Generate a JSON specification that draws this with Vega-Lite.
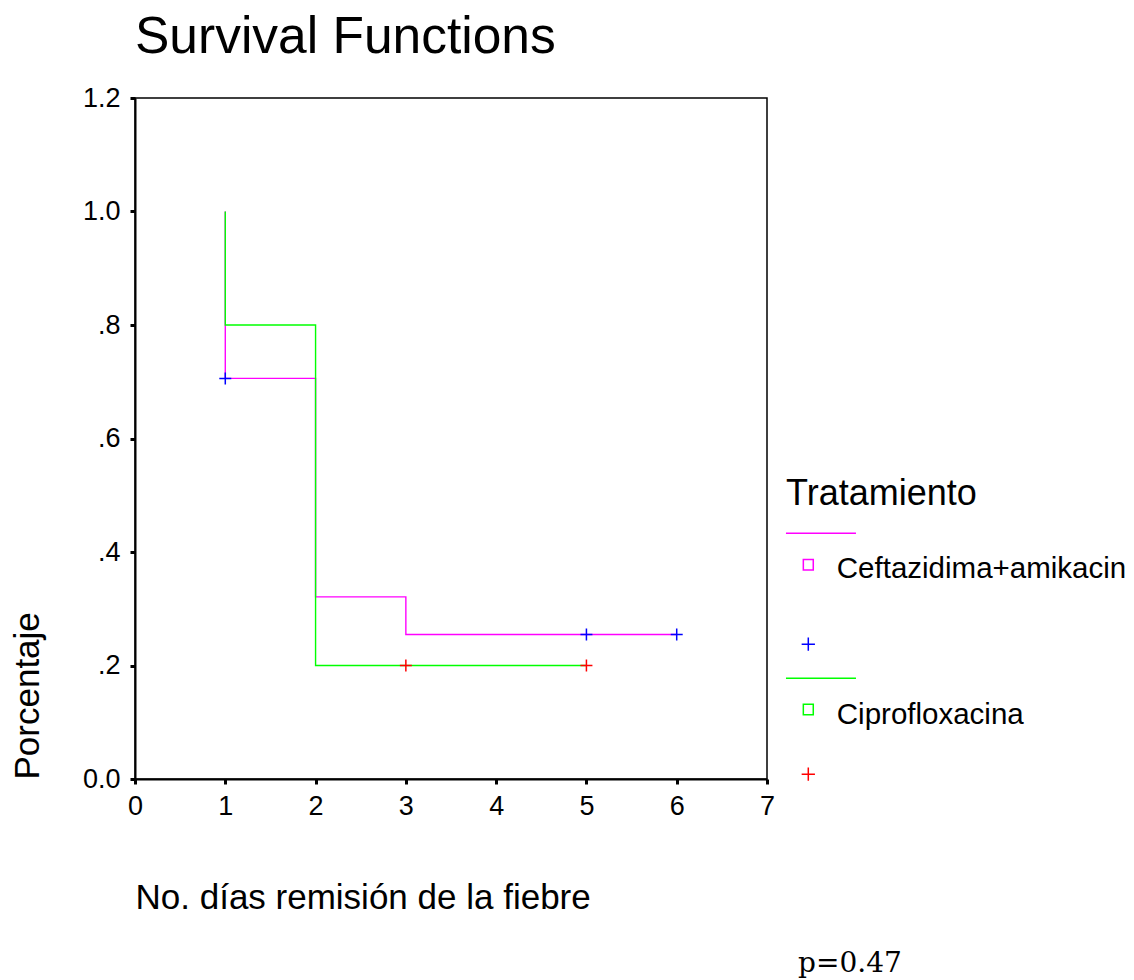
{
  "$schema": "https://vega.github.io/schema/vega-lite/v6.json",
  "width": 632,
  "height": 681,
  "autosize": {"type": "none"},
  "padding": {"left": 135, "top": 98, "right": 367, "bottom": 201},
  "background": "white",
  "title": {
    "text": "Survival Functions",
    "anchor": "start",
    "frame": "group",
    "font": "Liberation Sans",
    "fontSize": 51.5,
    "fontWeight": "normal",
    "color": "#000",
    "baseline": "alphabetic",
    "offset": -20
  },
  "config": {
    "font": "Liberation Sans",
    "view": {"stroke": "#000", "strokeWidth": 1.5},
    "axis": {
      "grid": false,
      "domainColor": "#000",
      "domainWidth": 2,
      "tickColor": "#000",
      "tickWidth": 3,
      "tickSize": 5,
      "labelFont": "Liberation Sans",
      "labelFontSize": 27,
      "labelColor": "#000",
      "labelFlush": false,
      "titleFont": "Liberation Sans",
      "titleFontSize": 35,
      "titleFontWeight": "normal",
      "titleColor": "#000"
    }
  },
  "datasets": {
    "curves": [
      {"key": "Ceftazidima+amikacin|line", "ord": 1, "time": 1, "surv": 1.0},
      {"key": "Ceftazidima+amikacin|line", "ord": 2, "time": 1, "surv": 0.7059},
      {"key": "Ceftazidima+amikacin|line", "ord": 3, "time": 2, "surv": 0.321},
      {"key": "Ceftazidima+amikacin|line", "ord": 4, "time": 3, "surv": 0.2545},
      {"key": "Ceftazidima+amikacin|line", "ord": 5, "time": 6, "surv": 0.2545},
      {"key": "Ciprofloxacina|line", "ord": 1, "time": 1, "surv": 1.0},
      {"key": "Ciprofloxacina|line", "ord": 2, "time": 1, "surv": 0.8},
      {"key": "Ciprofloxacina|line", "ord": 3, "time": 2, "surv": 0.2},
      {"key": "Ciprofloxacina|line", "ord": 4, "time": 5, "surv": 0.2}
    ],
    "censored": [
      {"key": "Ceftazidima+amikacin|censored", "time": 1, "surv": 0.7059},
      {"key": "Ceftazidima+amikacin|censored", "time": 5, "surv": 0.2545},
      {"key": "Ceftazidima+amikacin|censored", "time": 6, "surv": 0.2545},
      {"key": "Ciprofloxacina|censored", "time": 3, "surv": 0.2},
      {"key": "Ciprofloxacina|censored", "time": 5, "surv": 0.2}
    ],
    "legendkeys": [
      {"key": "Ceftazidima+amikacin|line"},
      {"key": "Ceftazidima+amikacin"},
      {"key": "Ceftazidima+amikacin|censored"},
      {"key": "Ciprofloxacina|line"},
      {"key": "Ciprofloxacina"},
      {"key": "Ciprofloxacina|censored"}
    ],
    "note": [
      {"time": 7.919, "surv": -0.3401, "label": "p=0.47"}
    ]
  },
  "layer": [
    {
      "data": {"name": "curves"},
      "mark": {"type": "line", "interpolate": "step-after", "strokeWidth": 1.4},
      "encoding": {
        "x": {
          "field": "time", "type": "quantitative",
          "scale": {"domain": [0, 7], "nice": false, "zero": false},
          "axis": {
            "title": "No. días remisión de la fiebre",
            "values": [0, 1, 2, 3, 4, 5, 6, 7],
            "format": "d",
            "labelPadding": 9,
            "titleX": 0,
            "titleY": 129,
            "titleAlign": "left",
            "titleBaseline": "alphabetic"
          }
        },
        "y": {
          "field": "surv", "type": "quantitative",
          "scale": {"domain": [0, 1.2], "nice": false, "zero": false},
          "axis": {
            "title": "Porcentaje",
            "values": [0, 0.2, 0.4, 0.6, 0.8, 1.0, 1.2],
            "format": ".1f",
            "labelExpr": "datum.value > 0.01 && datum.value < 0.99 ? substring(datum.label, 1) : datum.label",
            "labelPadding": 10,
            "titleX": -97,
            "titleY": 681,
            "titleAngle": -90,
            "titleAlign": "left",
            "titleBaseline": "alphabetic"
          }
        },
        "stroke": {
          "field": "key", "type": "nominal",
          "scale": {
            "domain": ["Ceftazidima+amikacin|line", "Ciprofloxacina|line", "Ceftazidima+amikacin|censored", "Ciprofloxacina|censored"],
            "range": ["#ff00ff", "#00ff00", "#0000ff", "#ff0000"]
          },
          "legend": null
        },
        "order": {"field": "ord", "type": "quantitative"}
      }
    },
    {
      "data": {"name": "censored"},
      "mark": {"type": "point", "shape": "M-1,0H1M0,-1V1", "size": 144, "filled": false, "strokeWidth": 1.5, "opacity": 1},
      "encoding": {
        "x": {"field": "time", "type": "quantitative"},
        "y": {"field": "surv", "type": "quantitative"},
        "stroke": {"field": "key", "type": "nominal", "legend": null}
      }
    },
    {
      "data": {"name": "legendkeys"},
      "mark": {"type": "point", "filled": false, "strokeWidth": 1.5, "opacity": 1},
      "encoding": {
        "x": {"field": "time", "type": "quantitative"},
        "y": {"field": "surv", "type": "quantitative"},
        "color": {
          "field": "key", "type": "nominal",
          "scale": {
            "domain": ["Ceftazidima+amikacin|line", "Ceftazidima+amikacin", "Ceftazidima+amikacin|censored", "Ciprofloxacina|line", "Ciprofloxacina", "Ciprofloxacina|censored"],
            "range": ["#ff00ff", "#ff00ff", "#0000ff", "#00ff00", "#00ff00", "#ff0000"]
          },
          "legend": {
            "title": "Tratamiento",
            "orient": "none",
            "legendX": 651,
            "legendY": 378.6,
            "direction": "vertical",
            "columns": 1,
            "padding": 0,
            "titleFont": "Liberation Sans",
            "titleFontSize": 36,
            "titleFontWeight": "normal",
            "titleColor": "#000",
            "titleLimit": 500,
            "titlePadding": 5.85,
            "labelFont": "Liberation Sans",
            "labelFontSize": 29.5,
            "labelColor": "#000",
            "labelLimit": 500,
            "labelOffset": 13.75,
            "symbolOffset": 7.55,
            "symbolSize": 196,
            "symbolStrokeWidth": 1.5,
            "symbolOpacity": 1,
            "rowPadding": 0,
            "labelExpr": "indexof(datum.label, '|') >= 0 ? '' : datum.label"
          }
        },
        "shape": {
          "field": "key", "type": "nominal",
          "scale": {
            "domain": ["Ceftazidima+amikacin|line", "Ceftazidima+amikacin", "Ceftazidima+amikacin|censored", "Ciprofloxacina|line", "Ciprofloxacina", "Ciprofloxacina|censored"],
            "range": [
              "M0,2.46M-3.19,0H6.81",
              "M0,7.98M-0.71,-1.38H0.71V0.12H-0.71Z",
              "M0,2.16M-0.95,0H0.95M0,-0.95V0.95",
              "M0,2.51M-3.19,0H6.81",
              "M0,5.64M-0.71,-1.56H0.71V-0.06H-0.71Z",
              "M-0.95,0H0.95M0,-0.95V0.95"
            ]
          },
          "legend": {
            "title": "Tratamiento",
            "orient": "none",
            "legendX": 651,
            "legendY": 378.6,
            "direction": "vertical",
            "columns": 1,
            "padding": 0,
            "titleFont": "Liberation Sans",
            "titleFontSize": 36,
            "titleFontWeight": "normal",
            "titleColor": "#000",
            "titleLimit": 500,
            "titlePadding": 5.85,
            "labelFont": "Liberation Sans",
            "labelFontSize": 29.5,
            "labelColor": "#000",
            "labelLimit": 500,
            "labelOffset": 13.75,
            "symbolOffset": 7.55,
            "symbolSize": 196,
            "symbolStrokeWidth": 1.5,
            "symbolOpacity": 1,
            "rowPadding": 0,
            "labelExpr": "indexof(datum.label, '|') >= 0 ? '' : datum.label"
          }
        }
      }
    },
    {
      "data": {"name": "note"},
      "mark": {"type": "text", "font": "DejaVu Serif", "fontSize": 28, "align": "center", "baseline": "alphabetic", "color": "#000"},
      "encoding": {
        "x": {"field": "time", "type": "quantitative"},
        "y": {"field": "surv", "type": "quantitative"},
        "text": {"field": "label", "type": "nominal"}
      }
    }
  ]
}
